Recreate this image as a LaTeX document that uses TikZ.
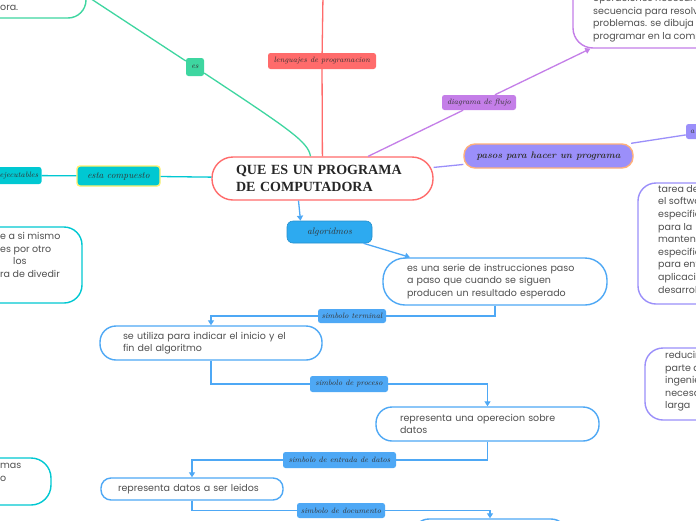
\documentclass[tikz,border=0pt]{standalone}
\usepackage{fontspec}
\newfontfamily\bodyfont{Poppins}
\newfontfamily\titlefont{Liberation Serif}
\usetikzlibrary{calc, positioning}
\usetikzlibrary{arrows.meta}

\definecolor{mapred}{RGB}{255,107,107}
\definecolor{mapgreen}{RGB}{62,214,160}
\definecolor{mappurple}{RGB}{196,126,232}
\definecolor{mapviolet}{RGB}{155,143,250}
\definecolor{mapteal}{RGB}{0,200,210}
\definecolor{mapblue}{RGB}{78,168,245}
\definecolor{mapsky}{RGB}{45,170,240}
\definecolor{mapyellow}{RGB}{255,240,110}
\definecolor{maporange}{RGB}{255,176,122}
\definecolor{maptext}{RGB}{80,80,80}

\begin{document}
\begin{tikzpicture}[x=1pt, y=-1pt,
  box/.style={draw, line width=1.4pt, fill=white, inner sep=0pt, align=left, text=maptext,
    font=\bodyfont\fontsize{9.5}{12.6}\selectfont},
  words/.style={inner sep=0pt, align=left, text=maptext, font=\bodyfont\fontsize{9.5}{12.6}\selectfont},
  tag/.style={rounded corners=2.5pt, inner sep=0pt, text=black!80, font=\fontsize{7.8}{9}\selectfont\itshape},
  link/.style={line width=1.3pt},
  flow/.style={line width=1.3pt, draw=mapblue, -{Triangle[length=5pt, width=6pt]}}
]
\useasboundingbox (0,0) rectangle (696,520);
\fill[white] (0,0) rectangle (696,520);
\clip (0,0) rectangle (696,520);

% centro
\node[box, draw=mapred, rounded corners=21pt, minimum width=221pt, minimum height=43pt, text width=173pt,
  text=black!85, font=\titlefont\bfseries\fontsize{14}{16.5}\selectfont] (title) at (322.5,178.5)
  {QUE ES UN PROGRAMA\\DE COMPUTADORA};

% ramas de arriba
\node[box, draw=mapgreen, rounded corners=18pt, minimum width=286pt, minimum height=44pt] (def) at (-57,-4) {};
\node[words, anchor=west] (deftext) at (0,8) {ora.};
\node[tag, fill=mapgreen, minimum width=18pt, minimum height=18pt] (es) at (195,67) {es};

\coordinate (lengtop) at (323,-5);
\node[tag, fill=mapred, minimum width=108pt, minimum height=16pt] (leng) at (322,61) {lenguajes de programacion};

\node[tag, fill=mappurple, minimum width=74pt, minimum height=15pt] (diag) at (479,102.5) {diagrama de flujo};
\node[box, draw=mappurple, rounded corners=20pt, minimum width=247pt, minimum height=88pt] (flujo) at (696.5,4) {};
\node[words, anchor=north west] (flujotext) at (593,-6)
  {operaciones necesarias\\secuencia para resolver\\problemas. se dibuja\\programar en la computadora};

\node[box, draw=maporange, fill=mapviolet, rounded corners=11pt, minimum width=169pt, minimum height=24pt,
  text=black!80, font=\fontsize{9.5}{11}\selectfont\itshape\bfseries, align=center] (pasos) at (548.5,156)
  {pasos para hacer un programa};
\node[tag, fill=mapviolet, minimum width=44pt, minimum height=15pt, text width=36pt, align=left] (atag) at (708,131.5) {a};

\node[box, draw=mapviolet, rounded corners=18pt, minimum width=212pt, minimum height=121pt] (tarea) at (744,243.5) {};
\node[words, anchor=north west] (tareatext) at (658,185)
  {tarea de\\el software\\especificaciones\\para la\\mantenimiento\\especificaciones\\para entender\\aplicaciones\\desarrollo};
\node[box, draw=mapviolet, rounded corners=18pt, minimum width=204pt, minimum height=72pt] (reduc) at (747,384) {};
\node[words, anchor=north west] (reductext) at (665,351)
  {reducir\\parte de\\ingenieria\\necesaria\\larga};

% ramas de la izquierda
\node[box, draw=mapyellow, fill=mapteal, rounded corners=3pt, minimum width=83pt, minimum height=20pt,
  text=black!80, font=\fontsize{9.5}{11}\selectfont\itshape, align=center] (esta) at (118.5,176) {esta compuesto};
\node[tag, fill=mapteal, minimum width=45pt, minimum height=17pt] (ejec) at (19,175.5) {ejecutables};

\node[box, draw=mapteal, rounded corners=18pt, minimum width=232pt, minimum height=76pt] (recur) at (-34,265) {};
\node[words, anchor=north west] (recurtext) at (0,232)
  {e a si mismo\\es por otro\\\hspace*{13pt}los\\ra de divedir};
\node[box, draw=mapteal, rounded corners=20pt, minimum width=201pt, minimum height=47pt] (sist) at (-49.5,481.5) {};
\node[words, anchor=north west] (sisttext) at (0,463) {mas\\o};

% algoritmo
\node[box, draw=mapsky!85!black, fill=mapsky, line width=0.6pt, rounded corners=6pt, minimum width=85pt, minimum height=22pt,
  text=black!80, font=\fontsize{9.5}{11}\selectfont\itshape, align=center] (alg) at (329.5,232) {algoridmos};

\node[box, draw=mapblue, rounded corners=22pt, minimum width=224pt, minimum height=47pt, text width=176pt] (box1) at (495,281.5)
  {es una serie de instrucciones paso\\a paso que cuando se siguen\\producen un resultado esperado};
\node[box, draw=mapblue, rounded corners=16pt, minimum width=222pt, minimum height=34pt, text width=176pt] (box2) at (211,343)
  {se utiliza para indicar el inicio y el\\fin del algoritmo};
\node[box, draw=mapblue, rounded corners=16pt, minimum width=223pt, minimum height=34pt, text width=175pt] (box3) at (487.5,424)
  {representa una operecion sobre\\datos};
\node[box, draw=mapblue, rounded corners=10pt, minimum width=182pt, minimum height=22pt, text width=148pt] (box4) at (192,489)
  {representa datos a ser leidos};
\node[box, draw=mapblue, rounded corners=16pt, minimum width=154pt, minimum height=42pt] (box5) at (490,540) {};

\node[tag, fill=mapblue, minimum width=68pt, minimum height=14pt] (term) at (352,316) {simbolo terminal};
\node[tag, fill=mapblue, minimum width=78pt, minimum height=16pt] (proc) at (349,384) {simbolo de proceso};
\node[tag, fill=mapblue, minimum width=113pt, minimum height=16pt] (entr) at (339.5,460) {simbolo de entrada de datos};
\node[tag, fill=mapblue, minimum width=88pt, minimum height=15pt] (docu) at (341,510.5) {simbolo de documento};

% conectores
\draw[link, mapgreen] (def.east) -- (es);
\draw[link, mapgreen] (es) .. controls (292,131) and (308,142) .. ([xshift=-12pt]title.north);
\draw[link, mapred] (lengtop) -- (leng);
\draw[link, mapred] (leng) -- (title);
\draw[link, mappurple] (title) -- (diag);
\draw[link, mappurple, -{Triangle[length=5pt, width=6pt]}] (diag) -- ([xshift=18pt]flujo.south west);
\draw[link, mapviolet] (title) -- (pasos);
\draw[link, mapviolet] (pasos) -- (atag);
\draw[link, mapteal] (title) -- (esta);
\draw[link, mapteal] (esta) -- (ejec);

\draw[flow] ([xshift=-24pt]title.south) -- ([xshift=-29pt]alg.north);
\draw[flow] ([xshift=34pt]alg.south) -- ([xshift=-85pt]box1.north);
\draw[link, mapblue] (box1.south) |- (term.east);
\draw[flow] (term.west) -| (box2.north);
\draw[link, mapblue] (box2.south) |- (proc.west);
\draw[flow] (proc.east) -| (box3.north);
\draw[link, mapblue] (box3.south) |- (entr.east);
\draw[flow] (entr.west) -| (box4.north);
\draw[link, mapblue] (box4.south) |- (docu.west);
\draw[flow] (docu.east) -| (box5.north);
\end{tikzpicture}
\end{document}
